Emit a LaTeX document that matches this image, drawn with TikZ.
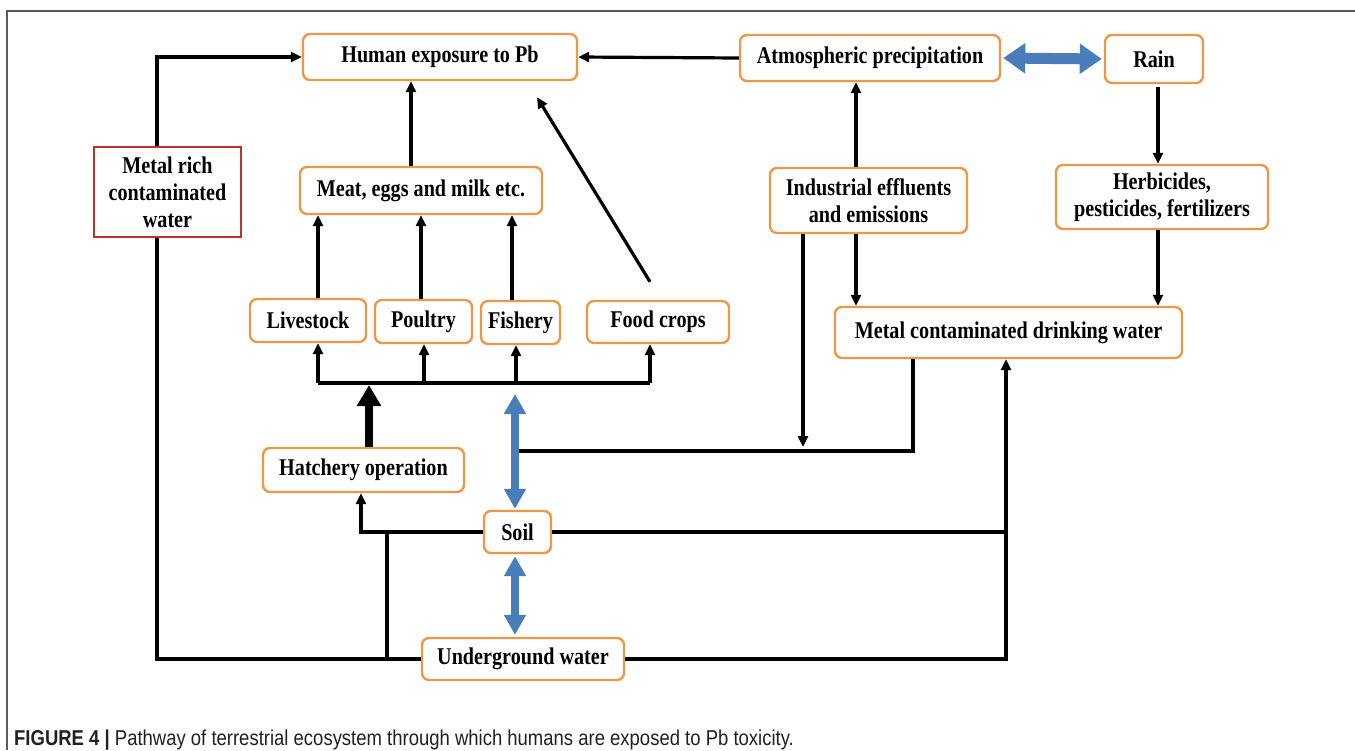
\documentclass[tikz,border=0pt]{standalone}
\usepackage{fontspec}
\setmainfont{Liberation Serif}
\newfontfamily\boxfont[FakeStretch=0.84]{Liberation Serif}
\newfontfamily\capfont[FakeStretch=0.86]{Liberation Sans}
\usetikzlibrary{arrows.meta}
\definecolor{boxorange}{RGB}{237,152,72}
\definecolor{arrowblue}{RGB}{74,126,187}
\definecolor{redbox}{RGB}{192,48,48}
\definecolor{framegray}{RGB}{90,90,90}
\definecolor{captext}{RGB}{35,31,32}
\begin{document}
\begin{tikzpicture}[x=1pt,y=-1pt,
  ob/.style={draw=boxorange, line width=2.4pt, rounded corners=7pt, fill=white,
    align=center, inner sep=0pt, font=\boxfont\bfseries\fontsize{24}{27}\selectfont},
  rb/.style={draw=redbox, line width=1.1pt, fill=white,
    align=center, inner sep=0pt, font=\boxfont\bfseries\fontsize{24}{27}\selectfont},
  conn/.style={draw=black, line width=3.2pt},
  arr/.style={conn, -{Triangle[width=10pt,length=11pt]}},
  bluedbl/.style={draw=arrowblue, line width=8pt,
    {Triangle[width=21pt,length=20pt]}-{Triangle[width=21pt,length=20pt]}},
  bluedblh/.style={draw=arrowblue, line width=11pt,
    {Triangle[width=29pt,length=22pt]}-{Triangle[width=29pt,length=22pt]}},
  thickarr/.style={draw=black, line width=8pt, -{Triangle[width=23pt,length=21pt]}},
  framel/.style={draw=framegray, line width=1.5pt}
]
\useasboundingbox (0,0) rectangle (1355,750);

% frame
\coordinate (fTR) at (1355,11);
\coordinate (fTL) at (7,11);
\coordinate (fBL) at (7,750);
\draw[framel] (fTR) -- (fTL) -- (fBL);

% boxes
\node[ob, minimum width=274, minimum height=46] (hum)   at (440,57)    {Human exposure to Pb};
\node[ob, minimum width=260, minimum height=46] (atm)   at (870,58)    {Atmospheric precipitation};
\node[ob, minimum width=98,  minimum height=48] (rain)  at (1154,59)   {Rain};
\node[rb, minimum width=147, minimum height=90] (mr)    at (167.5,192) {Metal rich\\contaminated\\water};
\node[ob, minimum width=242, minimum height=47] (meat)  at (421,190.5) {Meat, eggs and milk etc.};
\node[ob, minimum width=197, minimum height=65] (ind)   at (868.5,200.5) {Industrial effluents\\and emissions};
\node[ob, minimum width=212, minimum height=64] (herb)  at (1162,197)  {Herbicides,\\pesticides, fertilizers};
\node[ob, minimum width=116, minimum height=43] (live)  at (308,320.5) {Livestock};
\node[ob, minimum width=97,  minimum height=43] (poul)  at (423.5,321.5) {Poultry};
\node[ob, minimum width=79,  minimum height=43] (fish)  at (520.5,322.5) {Fishery};
\node[ob, minimum width=142, minimum height=42] (food)  at (658,322)   {Food crops};
\node[ob, minimum width=347, minimum height=51] (mcdw)  at (1008.5,332.5) {Metal contaminated drinking water};
\node[ob, minimum width=201, minimum height=44] (hatch) at (363.5,470) {Hatchery operation};
\node[ob, minimum width=67,  minimum height=42] (soil)  at (517.5,532) {Soil};
\node[ob, minimum width=202, minimum height=42] (under) at (523,659)   {Underground water};

% helper coordinates
\coordinate (busL) at (318,383);
\coordinate (busR) at (650,383);
\coordinate (j1) at (517,451);
\coordinate (v1) at (387,532);
\coordinate (c1) at ([xshift=-2.5]mcdw.south);

% connectors to human exposure
\draw[arr] ([xshift=-10.5]mr.north) |- (hum.west);
\draw[conn] (under.west) -| ([xshift=-10.5]mr.south);
\draw[arr] ([xshift=-10]meat.north) -- ([xshift=-29]hum.south);
\draw[arr] ([shift={(-8,-18)}]food.north) -- ([shift={(97,16)}]hum.south);
\draw[arr] (atm.west) -- (hum.east);
\draw[bluedblh, shorten <=2pt, shorten >=2pt] (atm.east) -- (rain.west);

% industrial, rain, herbicides
\draw[arr] ([xshift=-12.5]ind.north) -- ([xshift=-14]atm.south);
\draw[arr, shorten <=3pt] ([xshift=4]rain.south) -- ([xshift=-4]herb.north);
\draw[arr] ([xshift=-4]herb.south) -- ([xshift=149.5]mcdw.north);
\draw[arr] ([xshift=-12.5]ind.south) -- ([xshift=-152.5]mcdw.north);
\draw[arr, shorten >=4pt] ([xshift=-65.5]ind.south) -- ([xshift=-65.5]ind.south |- j1);
\draw[conn] ([xshift=-95.5]mcdw.south) |- (j1);

% bus to animals / crops
\draw[conn] (busL) -- (busR);
\draw[arr] ([xshift=10]live.south |- busL) -- ([xshift=10]live.south);
\draw[arr] ([xshift=0.5]poul.south |- busL) -- ([xshift=0.5]poul.south);
\draw[arr] ([xshift=-4.5]fish.south |- busL) -- ([xshift=-4.5]fish.south);
\draw[arr] ([xshift=-8]food.south |- busL) -- ([xshift=-8]food.south);

% animals to meat
\draw[arr] ([xshift=10]live.north) -- ([xshift=-103]meat.south);
\draw[arr] ([xshift=-2.5]poul.north) -- (meat.south);
\draw[arr] ([xshift=-8.5]fish.north) -- ([xshift=91]meat.south);

% hatchery thick arrow
\draw[thickarr, shorten >=2pt] ([xshift=5.5]hatch.north) -- ([xshift=5.5]hatch.north |- busL);

% blue soil arrows
\draw[bluedbl, shorten <=11pt, shorten >=1pt] ([xshift=-2.5]soil.north |- busL) -- ([xshift=-2.5]soil.north);
\draw[bluedbl, shorten <=2pt, shorten >=2pt] ([xshift=-2.5]soil.south) -- ([xshift=-8]under.north);

% soil connections
\draw[arr] (soil.west) -| ([xshift=-2.5]hatch.south);
\draw[conn] (v1) -- (v1 |- under.west);
\draw[conn] (soil.east) -- (soil.east -| c1);
\draw[arr] (under.east) -| (c1);

% caption
\node[anchor=base west, inner sep=0pt, text=captext,
      font=\capfont\fontsize{21.5}{24}\selectfont] (cap) at (14,745)
  {\textbf{FIGURE 4 |} Pathway of terrestrial ecosystem through which humans are exposed to Pb toxicity.};
\end{tikzpicture}
\end{document}
